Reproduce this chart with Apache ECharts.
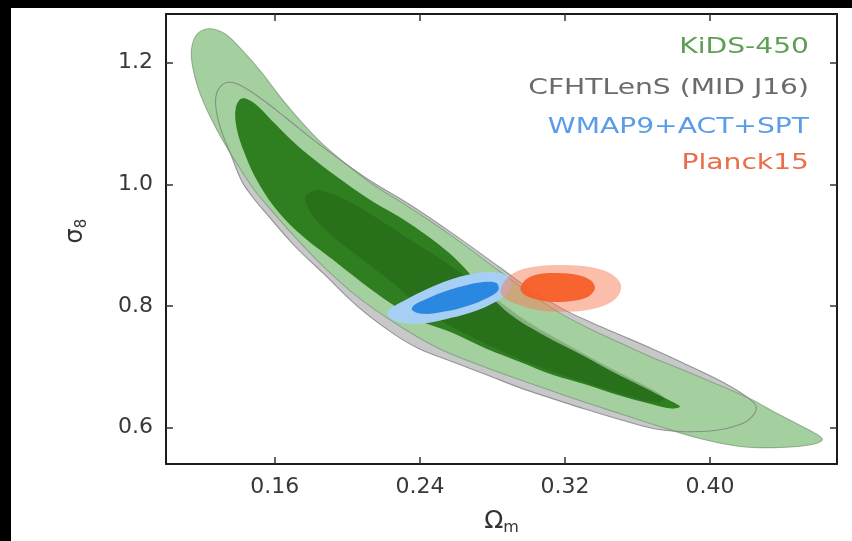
<!DOCTYPE html>
<html>
<head>
    <meta charset="utf-8">
    <title>sigma8 - Omega_m</title>
    <script src="https://cdn.jsdelivr.net/npm/echarts@6.0.0/dist/echarts.min.js"></script>
    <style>
        html, body { margin: 0; padding: 0; background: #000; }
        #chart { position: absolute; left: 11px; top: 8px; width: 841px; height: 533px; background: #fff; }
    </style>
</head>
<body>
    <div id="chart"></div>
    <script type="text/javascript">
        // tick labels
        var xTicks = [0.16, 0.24, 0.32, 0.40];
        var yTicks = [0.6, 0.8, 1.0, 1.2];

        // contour outlines, [Omega_m, sigma_8]
        var kids95 = [[0.1235,1.2557],[0.1324,1.2475],[0.1412,1.2229],[0.1523,1.1852],[0.1633,1.1426],[0.1744,1.1033],
            [0.1854,1.0688],[0.1981,1.0361],[0.2131,1.0016],[0.2341,0.9623],[0.2562,0.918],[0.2838,0.8574],[0.3004,0.8213],
            [0.317,0.7885],[0.3336,0.7623],[0.3502,0.7393],[0.3684,0.7148],[0.3889,0.6902],[0.4055,0.6689],[0.4221,0.6475],
            [0.4359,0.6246],[0.4497,0.6033],[0.458,0.5902],[0.4619,0.5803],[0.4563,0.5721],[0.4387,0.5672],[0.4165,0.5689],
            [0.3944,0.582],[0.3723,0.6016],[0.3502,0.623],[0.3281,0.6443],[0.306,0.6672],[0.2767,0.6984],[0.2507,0.7295],
            [0.2286,0.7672],[0.2064,0.8131],[0.1871,0.8639],[0.1722,0.9098],[0.1594,0.9525],[0.1484,0.9918],[0.139,1.0344],
            [0.1301,1.0787],[0.123,1.1197],[0.118,1.1557],[0.1147,1.1934],[0.1141,1.2229],[0.1169,1.2459]];
        var kids68 = [[0.1418,1.141],[0.1489,1.1328],[0.1583,1.1049],[0.1694,1.0721],[0.1816,1.041],[0.1954,1.0098],
            [0.212,0.9754],[0.2341,0.9361],[0.2562,0.8869],[0.2728,0.8361],[0.2894,0.7869],[0.3098,0.7492],[0.3281,0.7213],
            [0.3463,0.6918],[0.3651,0.6639],[0.3778,0.6443],[0.3834,0.6344],[0.3789,0.6311],[0.3684,0.6377],[0.3502,0.6525],
            [0.3319,0.6705],[0.3131,0.6869],[0.2949,0.7082],[0.2767,0.7295],[0.2579,0.7557],[0.2396,0.7754],[0.2286,0.7951],
            [0.212,0.8295],[0.1943,0.8705],[0.1733,0.9197],[0.1594,0.9639],[0.1495,1.0098],[0.1429,1.0541],[0.139,1.0918],
            [0.1384,1.1246]];
        var cfht95 = [[0.1335,1.1672],[0.1401,1.1639],[0.1523,1.141],[0.1666,1.1082],[0.1816,1.0721],[0.1965,1.0393],
            [0.2131,1.0049],[0.2341,0.9672],[0.2562,0.9229],[0.2838,0.8639],[0.3004,0.8279],[0.3187,0.7951],[0.3336,0.7738],
            [0.3502,0.7525],[0.3668,0.7311],[0.3872,0.7033],[0.4055,0.677],[0.4193,0.6525],[0.4254,0.6344],[0.4232,0.618],
            [0.4165,0.6049],[0.4027,0.5951],[0.3834,0.5934],[0.3684,0.5984],[0.3502,0.6131],[0.3319,0.6295],[0.3131,0.6475],
            [0.2949,0.6656],[0.2767,0.6869],[0.2579,0.7082],[0.2396,0.7295],[0.2247,0.7557],[0.2053,0.8],[0.1871,0.8525],
            [0.1705,0.9],[0.1556,0.9508],[0.1478,0.9787],[0.1418,1.0049],[0.1357,1.0492],[0.1301,1.0918],[0.1274,1.1295],
            [0.1285,1.1541]];
        var cfht68 = [[0.1771,0.9803],[0.1843,0.9902],[0.1981,0.9754],[0.2147,0.9475],[0.2341,0.9098],[0.2562,0.8672],
            [0.2783,0.8197],[0.3004,0.7721],[0.3225,0.7344],[0.3447,0.6984],[0.364,0.6689],[0.3745,0.6492],[0.3712,0.641],
            [0.3557,0.6508],[0.3336,0.6721],[0.3115,0.6934],[0.2894,0.7197],[0.2673,0.7508],[0.2451,0.7885],[0.2258,0.8361],
            [0.2064,0.8803],[0.1899,0.9197],[0.1799,0.9525]];
        var wmap95 = [[0.2219,0.7869],[0.2263,0.7754],[0.2352,0.7705],[0.2451,0.7721],[0.2573,0.7803],[0.2706,0.7918],
            [0.2816,0.8066],[0.2883,0.8213],[0.2905,0.8377],[0.2872,0.8508],[0.2794,0.8557],[0.2684,0.8525],[0.2562,0.8426],
            [0.244,0.8279],[0.233,0.8115],[0.2252,0.7984]];
        var wmap68 = [[0.2357,0.7934],[0.2418,0.7869],[0.2529,0.7902],[0.2662,0.8],[0.2772,0.8131],[0.2833,0.8262],
            [0.2822,0.8377],[0.275,0.8393],[0.2639,0.8328],[0.2529,0.8229],[0.2424,0.8098],[0.2369,0.8016]];
        var planck95 = [[0.2844,0.8246],[0.2872,0.8426],[0.2938,0.8574],[0.306,0.8656],[0.3198,0.8672],[0.3336,0.8639],
            [0.3447,0.8541],[0.3507,0.8361],[0.3496,0.818],[0.3436,0.8033],[0.3325,0.7934],[0.3187,0.7902],[0.3049,0.7934],
            [0.2932,0.8033],[0.2866,0.8131]];
        var planck68 = [[0.2955,0.8295],[0.2988,0.8443],[0.306,0.8525],[0.3159,0.8541],[0.327,0.8508],[0.3347,0.841],
            [0.3364,0.8279],[0.3325,0.8148],[0.3237,0.8082],[0.3131,0.8066],[0.3032,0.8115],[0.2971,0.8197]];

        var legendNames = ['KiDS-450', 'CFHTLenS (MID J16)', 'WMAP9+ACT+SPT', 'Planck15'];
        var legendColors = ['#5f9f55', '#6b6b6b', '#5a9ce8', '#ea6d4a'];

        var font = 'DejaVu Sans';

        // one closed, smoothed polygon per series
        function contour(name, pts, fill, stroke, z) {
            return {
                type: 'custom',
                name: name,
                coordinateSystem: 'cartesian2d',
                silent: true,
                z: z,
                data: pts,
                encode: { x: 0, y: 1 },
                renderItem: function (params, api) {
                    if (params.dataIndex !== 0) return;
                    var poly = pts.map(function (p) { return api.coord(p); });
                    return {
                        type: 'polygon',
                        shape: { points: poly, smooth: 0.35 },
                        style: {
                            fill: fill || 'none',
                            stroke: stroke || 'none',
                            lineWidth: stroke ? 1.1 : 0
                        }
                    };
                }
            };
        }

        function xAxisOf(pos, labels) {
            return {
                type: 'value', position: pos, min: 0.10, max: 0.47,
                axisLine: { show: true, onZero: false, lineStyle: { color: '#1c1c1c', width: 2 } },
                axisTick: { show: true, inside: true, length: 7, customValues: xTicks, lineStyle: { color: '#333', width: 1.5 } },
                axisLabel: {
                    show: labels, customValues: xTicks, margin: 12, fontSize: 22, color: '#383838', fontFamily: font,
                    formatter: function (v) { return v.toFixed(2); }
                },
                splitLine: { show: false }
            };
        }
        function yAxisOf(pos, labels) {
            return {
                type: 'value', position: pos, min: 0.54, max: 1.28,
                axisLine: { show: true, onZero: false, lineStyle: { color: '#1c1c1c', width: 2 } },
                axisTick: { show: true, inside: true, length: 7, customValues: yTicks, lineStyle: { color: '#333', width: 1.5 } },
                axisLabel: {
                    show: labels, customValues: yTicks, margin: 13, fontSize: 22, color: '#383838', fontFamily: font,
                    formatter: function (v) { return v.toFixed(1); }
                },
                splitLine: { show: false }
            };
        }

        var chart = echarts.init(document.getElementById('chart'));

        var xMain = xAxisOf('bottom', true);
        xMain.name = '{o|Ω}{m|m}';
        xMain.nameLocation = 'middle';
        xMain.nameGap = 42;
        xMain.nameTextStyle = { rich: {
            o: { fontSize: 25, fontFamily: font, color: '#333', lineHeight: 30 },
            m: { fontSize: 16, fontFamily: font, color: '#333', verticalAlign: 'bottom', lineHeight: 16 }
        } };
        var yMain = yAxisOf('left', true);
        yMain.name = '{s|σ}{n|8}';
        yMain.nameLocation = 'middle';
        yMain.nameRotate = 90;
        yMain.nameGap = 76;
        yMain.nameTextStyle = { padding: [0, 0, 0, 16], rich: {
            s: { fontSize: 24, fontFamily: font, color: '#333', lineHeight: 28 },
            n: { fontSize: 15, fontFamily: font, color: '#333', verticalAlign: 'bottom', lineHeight: 15 }
        } };

        var graphics = legendNames.map(function (t, i) {
            return {
                type: 'text',
                x: 798,
                y: [39, 80, 119, 155][i],
                scaleX: 1.28,
                silent: true,
                style: {
                    text: t, fill: legendColors[i], font: '22px "DejaVu Sans"',
                    textAlign: 'right', textVerticalAlign: 'middle'
                }
            };
        });

        var option = {
            animation: false,
            backgroundColor: '#fff',
            grid: { left: 155, right: 15, top: 6, bottom: 77, containLabel: false },
            xAxis: [xMain, xAxisOf('top', false)],
            yAxis: [yMain, yAxisOf('right', false)],
            graphic: graphics,
            series: [
                contour('CFHTLenS 95%', cfht95, '#c8c8cb', null, 2),
                contour('KiDS-450 95%', kids95, '#a4d0a0', 'rgba(120,150,115,0.7)', 3),
                contour('CFHTLenS edge', cfht95, null, 'rgba(120,125,120,0.75)', 4),
                contour('KiDS-450 68%', kids68, '#2f7f20', null, 5),
                contour('CFHTLenS 68%', cfht68, 'rgba(15,60,5,0.2)', null, 6),
                contour('WMAP 95%', wmap95, '#a7cff6', null, 7),
                contour('WMAP 68%', wmap68, '#2a88e0', null, 8),
                contour('Planck 95%', planck95, 'rgba(246,125,85,0.5)', null, 9),
                contour('Planck 68%', planck68, 'rgba(246,92,38,0.92)', null, 10)
            ]
        };

        chart.setOption(option);
    </script>
</body>
</html>
